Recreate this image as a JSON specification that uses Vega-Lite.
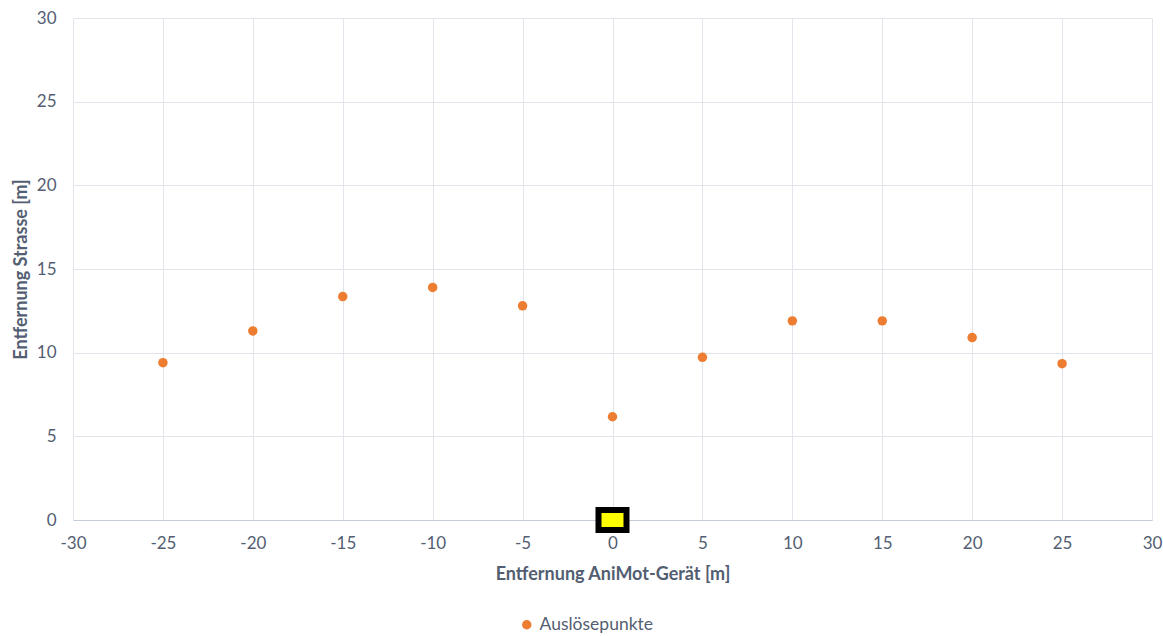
{
  "$schema": "https://vega.github.io/schema/vega-lite/v6.json",
  "width": 1079,
  "height": 502,
  "autosize": {"type": "none"},
  "padding": {"left": 73, "top": 18, "right": 11, "bottom": 116},
  "background": "white",
  "config": {
    "view": {"stroke": null},
    "font": "Lato",
    "axis": {
      "labelFont": "Lato",
      "labelFontSize": 17,
      "labelColor": "#535e72",
      "titleFont": "Lato",
      "titleFontSize": 18,
      "titleFontWeight": "bold",
      "titleColor": "#535e72",
      "gridColor": "#e1e4ea",
      "gridWidth": 1,
      "domainColor": "#c5cbd9",
      "ticks": false
    }
  },
  "layer": [
    {
      "data": {
        "values": [
          {"AniMot": -25, "Strasse": 9.4, "Serie": "Auslösepunkte"},
          {"AniMot": -20, "Strasse": 11.3, "Serie": "Auslösepunkte"},
          {"AniMot": -15, "Strasse": 13.35, "Serie": "Auslösepunkte"},
          {"AniMot": -10, "Strasse": 13.9, "Serie": "Auslösepunkte"},
          {"AniMot": -5, "Strasse": 12.8, "Serie": "Auslösepunkte"},
          {"AniMot": 0, "Strasse": 6.17, "Serie": "Auslösepunkte"},
          {"AniMot": 5, "Strasse": 9.72, "Serie": "Auslösepunkte"},
          {"AniMot": 10, "Strasse": 11.9, "Serie": "Auslösepunkte"},
          {"AniMot": 15, "Strasse": 11.9, "Serie": "Auslösepunkte"},
          {"AniMot": 20, "Strasse": 10.9, "Serie": "Auslösepunkte"},
          {"AniMot": 25, "Strasse": 9.34, "Serie": "Auslösepunkte"}
        ]
      },
      "mark": {"type": "point", "filled": true, "size": 90, "opacity": 1},
      "encoding": {
        "x": {
          "field": "AniMot",
          "type": "quantitative",
          "scale": {"domain": [-30, 30], "nice": false, "zero": false},
          "axis": {
            "title": "Entfernung AniMot-Gerät [m]",
            "values": [-30, -25, -20, -15, -10, -5, 0, 5, 10, 15, 20, 25, 30],
            "labelExpr": "toString(datum.value)",
            "labelPadding": 15,
            "titlePadding": 14,
            "labelFlush": false
          }
        },
        "y": {
          "field": "Strasse",
          "type": "quantitative",
          "scale": {"domain": [0, 30], "nice": false},
          "axis": {
            "title": "Entfernung Strasse [m]",
            "values": [0, 5, 10, 15, 20, 25, 30],
            "labelPadding": 17,
            "titlePadding": 6,
            "domain": false,
            "labelFlush": false
          }
        },
        "color": {
          "field": "Serie",
          "type": "nominal",
          "scale": {"domain": ["Auslösepunkte"], "range": ["#ED7D31"]},
          "legend": {
            "title": null,
            "orient": "none",
            "legendX": 445,
            "legendY": 598,
            "symbolType": "circle",
            "symbolSize": 90,
            "labelFont": "Lato",
            "labelFontSize": 17.5,
            "labelColor": "#535e72"
          }
        }
      }
    },
    {
      "data": {"values": [{"AniMot": 0, "Strasse": 0}]},
      "mark": {
        "type": "point",
        "shape": "M-1,-0.714H1V0.714H-1Z",
        "size": 784,
        "filled": true,
        "fill": "#FFFF00",
        "stroke": "#000000",
        "strokeWidth": 6,
        "opacity": 1
      },
      "encoding": {
        "x": {"field": "AniMot", "type": "quantitative"},
        "y": {"field": "Strasse", "type": "quantitative"}
      }
    }
  ]
}
